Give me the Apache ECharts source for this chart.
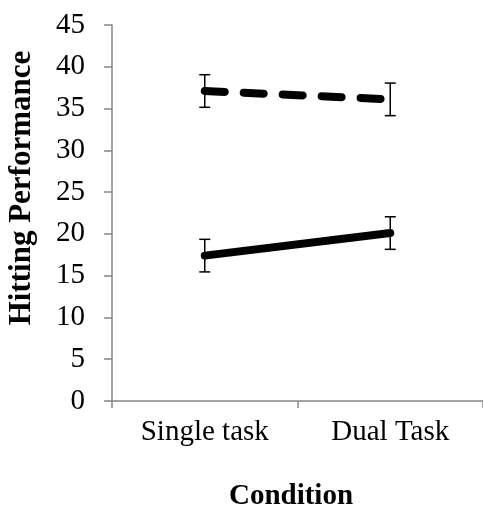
<!DOCTYPE html>
<html>
<head>
<meta charset="utf-8">
<script src="https://cdn.jsdelivr.net/npm/echarts@6/dist/echarts.min.js"></script>
<style>
  html, body { margin: 0; padding: 0; background: #fff; }
  #chart { width: 483px; height: 528px; }
</style>
</head>
<body>
<div id="chart"></div>
<script>
// Conditions on the x axis
const conditions = ['Single task', 'Dual Task'];
// Mean hitting performance per group, with error bar half-widths
const dashedMeans = [37.1, 36.1];
const dashedErr = [1.95, 1.95];
const solidMeans = [17.4, 20.1];
const solidErr = [1.95, 1.95];
// Value axis range and step
const yMin = 0, yMax = 45, yStep = 5;

const serif = '"Liberation Serif", "Times New Roman", serif';
const axisGrey = '#868686';

function errorSeries(means, errs) {
  return {
    type: 'custom',
    z: 3,
    data: means.map((m, i) => [i, m - errs[i], m + errs[i]]),
    renderItem: function (params, api) {
      const lo = api.coord([api.value(0), api.value(1)]);
      const hi = api.coord([api.value(0), api.value(2)]);
      const cap = 5.5;
      const style = { stroke: '#000', lineWidth: 1.5 };
      return {
        type: 'group',
        children: [
          { type: 'line', shape: { x1: lo[0], y1: lo[1], x2: hi[0], y2: hi[1] }, style },
          { type: 'line', shape: { x1: lo[0] - cap, y1: lo[1], x2: lo[0] + cap, y2: lo[1] }, style },
          { type: 'line', shape: { x1: hi[0] - cap, y1: hi[1], x2: hi[0] + cap, y2: hi[1] }, style }
        ]
      };
    }
  };
}

const chart = echarts.init(document.getElementById('chart'), null, { renderer: 'canvas' });
chart.setOption({
  animation: false,
  backgroundColor: '#fff',
  grid: { left: 112, right: 0, top: 25, bottom: 127 },
  xAxis: {
    type: 'category',
    data: conditions,
    boundaryGap: true,
    axisLine: { lineStyle: { color: axisGrey, width: 1.5 } },
    axisTick: { show: true, length: 7, lineStyle: { color: axisGrey, width: 1.5 } },
    axisLabel: { color: '#000', fontFamily: serif, fontSize: 29, margin: 17 },
    splitLine: { show: false }
  },
  yAxis: {
    type: 'value',
    min: yMin,
    max: yMax,
    interval: yStep,
    axisLine: { show: true, lineStyle: { color: axisGrey, width: 1.5 } },
    axisTick: { show: true, length: 8, lineStyle: { color: axisGrey, width: 1.5 } },
    axisLabel: { color: '#000', fontFamily: serif, fontSize: 29, margin: 27 },
    splitLine: { show: false }
  },
  graphic: [
    {
      type: 'text',
      x: 22, y: 188,
      rotation: Math.PI / 2,
      style: {
        text: 'Hitting Performance',
        font: 'bold 31px ' + serif,
        fill: '#000',
        align: 'center',
        verticalAlign: 'middle'
      }
    },
    {
      type: 'text',
      x: 291, y: 497,
      style: {
        text: 'Condition',
        font: 'bold 29px ' + serif,
        fill: '#000',
        align: 'center',
        verticalAlign: 'middle'
      }
    }
  ],
  series: [
    {
      type: 'line',
      data: dashedMeans,
      symbol: 'none',
      z: 2,
      lineStyle: { color: '#000', width: 8, type: [20, 19], cap: 'round' }
    },
    {
      type: 'line',
      data: solidMeans,
      symbol: 'none',
      z: 2,
      lineStyle: { color: '#000', width: 8, cap: 'round' }
    },
    errorSeries(dashedMeans, dashedErr),
    errorSeries(solidMeans, solidErr)
  ]
});
</script>
</body>
</html>
